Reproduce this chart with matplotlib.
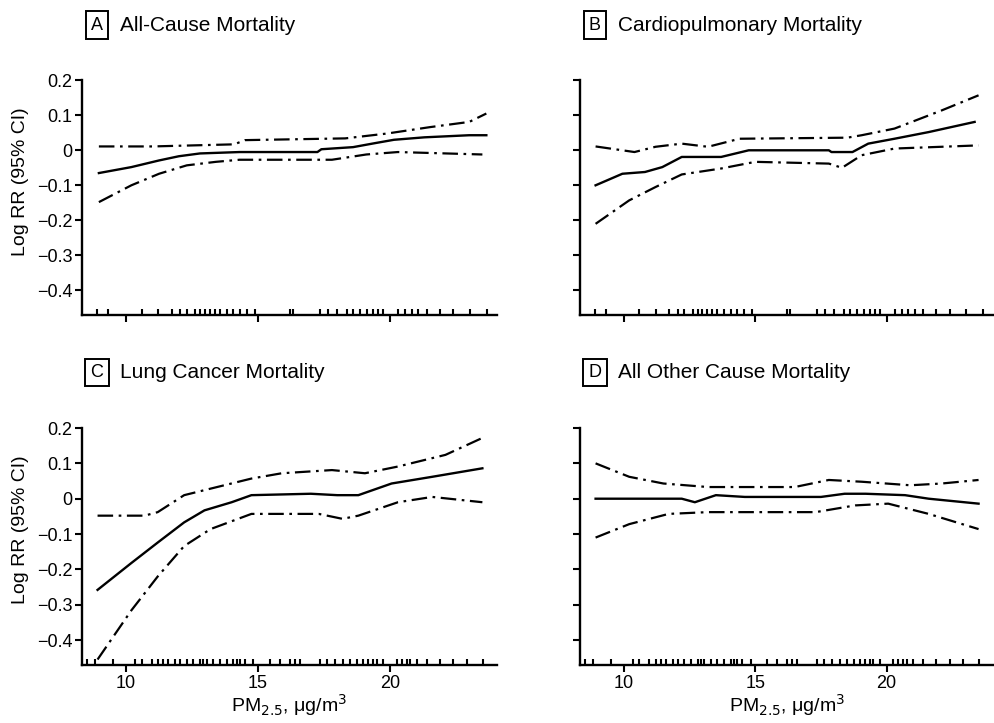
import numpy as np
import matplotlib
matplotlib.use('Agg')
import matplotlib.pyplot as plt
import matplotlib.transforms as mtransforms

plt.rcParams['font.family'] = ['Liberation Sans', 'DejaVu Sans']

# panel letters and titles
letters = ['A', 'B', 'C', 'D']
titles = ['All-Cause Mortality', 'Cardiopulmonary Mortality',
          'Lung Cancer Mortality', 'All Other Cause Mortality']

# A: all-cause
a_x = [8.97, 10.2, 11.25, 12.0, 12.8, 14.3, 17.25, 17.4, 18.6, 19.4, 20.15, 21.3, 23.0, 23.65]
a_fit = [-0.065, -0.048, -0.029, -0.017, -0.009, -0.005, -0.005, 0.003, 0.009, 0.02, 0.03, 0.037, 0.043, 0.043]
a_ux = [8.97, 11.0, 14.1, 14.5, 18.3, 19.9, 21.5, 23.0, 23.65]
a_up = [0.011, 0.011, 0.017, 0.029, 0.034, 0.048, 0.066, 0.081, 0.105]
a_lx = [8.97, 10.2, 11.25, 12.3, 13.4, 14.3, 17.8, 19.1, 20.3, 23.5]
a_lo = [-0.148, -0.10, -0.067, -0.043, -0.033, -0.027, -0.027, -0.012, -0.005, -0.012]

# B: cardiopulmonary
b_x = [8.92, 9.94, 10.8, 11.46, 12.2, 13.7, 14.75, 17.8, 17.9, 18.7, 19.3, 20.3, 21.6, 23.35]
b_fit = [-0.10, -0.067, -0.062, -0.048, -0.019, -0.019, 0.0, 0.0, -0.005, -0.005, 0.019, 0.033, 0.052, 0.081]
b_ux = [8.92, 10.4, 11.2, 12.2, 13.2, 14.4, 18.5, 19.05, 20.3, 22.1, 23.5]
b_up = [0.011, -0.005, 0.01, 0.019, 0.01, 0.033, 0.036, 0.043, 0.062, 0.114, 0.157]
b_lx = [8.92, 10.2, 11.2, 12.2, 13.7, 15.0, 17.8, 18.3, 19.05, 20.3, 23.5]
b_lo = [-0.21, -0.143, -0.105, -0.069, -0.052, -0.033, -0.038, -0.05, -0.014, 0.005, 0.014]

# C: lung cancer
c_x = [8.92, 10.2, 11.2, 12.2, 12.97, 14.0, 14.75, 17.0, 18.0, 18.8, 20.06, 21.6, 23.5]
c_fit = [-0.258, -0.182, -0.124, -0.067, -0.033, -0.01, 0.01, 0.014, 0.01, 0.01, 0.043, 0.062, 0.086]
c_ux = [8.92, 10.7, 11.2, 12.2, 14.75, 15.9, 17.8, 19.05, 20.3, 22.1, 23.5]
c_up = [-0.048, -0.048, -0.038, 0.01, 0.057, 0.072, 0.081, 0.072, 0.091, 0.124, 0.172]
c_lx = [8.92, 10.2, 11.2, 12.2, 13.2, 14.75, 16.0, 17.3, 18.2, 18.8, 20.3, 21.6, 23.5]
c_lo = [-0.455, -0.316, -0.22, -0.134, -0.086, -0.043, -0.043, -0.043, -0.057, -0.048, -0.01, 0.005, -0.01]

# D: all other cause
d_x = [8.92, 12.2, 12.7, 13.5, 14.6, 17.5, 18.4, 19.2, 20.7, 21.6, 23.5]
d_fit = [0.0, 0.0, -0.01, 0.01, 0.005, 0.005, 0.014, 0.014, 0.01, 0.0, -0.014]
d_ux = [8.92, 10.2, 11.5, 13.2, 16.5, 17.8, 19.05, 20.9, 22.1, 23.5]
d_up = [0.10, 0.062, 0.043, 0.033, 0.033, 0.053, 0.048, 0.038, 0.043, 0.053]
d_lx = [8.92, 10.2, 11.7, 13.2, 15.3, 17.3, 18.8, 20.06, 21.6, 23.5]
d_lo = [-0.11, -0.072, -0.043, -0.038, -0.038, -0.038, -0.019, -0.014, -0.043, -0.086]

# rug of city PM2.5 values
rug_top = [8.89, 9.33, 10.59, 11.22, 11.73, 12.05, 12.3, 12.61, 12.8, 12.99, 13.18, 13.37,
           13.56, 13.81, 14.06, 14.32, 14.57, 14.89, 16.21, 16.34, 17.35, 17.66, 17.98, 18.36,
           18.61, 18.86, 19.12, 19.37, 19.56, 19.75, 20.31, 20.57, 20.82, 21.07, 21.39, 21.89,
           22.4, 23.03, 23.66]
rug_bottom = [8.51, 8.83, 9.52, 10.34, 10.59, 10.97, 11.22, 11.41, 11.6, 11.86, 12.05, 12.3,
              12.55, 12.8, 12.93, 13.06, 13.31, 13.56, 13.81, 14.06, 14.19, 14.32, 14.5, 14.82,
              15.45, 15.83, 16.21, 16.4, 16.59, 17.35, 17.6, 17.92, 18.23, 18.48, 18.74, 18.99,
              19.18, 19.37, 19.5, 19.75, 20.25, 20.44, 20.63, 20.76, 21.01, 21.39, 21.89, 22.4,
              22.9, 23.53]

yticks = [0.2, 0.1, 0, -0.1, -0.2, -0.3, -0.4]
ytick_labels = ['0.2', '0.1', '0', '\u22120.1', '\u22120.2', '\u22120.3', '\u22120.4']
xticks = [10, 15, 20]

panels = [
    (a_x, a_fit, a_ux, a_up, a_lx, a_lo, rug_top),
    (b_x, b_fit, b_ux, b_up, b_lx, b_lo, rug_top),
    (c_x, c_fit, c_ux, c_up, c_lx, c_lo, rug_bottom),
    (d_x, d_fit, d_ux, d_up, d_lx, d_lo, rug_bottom),
]

fig = plt.figure(figsize=(9.95, 7.23), dpi=100)
rects = [[0.0824, 0.564, 0.417, 0.325], [0.583, 0.564, 0.415, 0.325],
         [0.0824, 0.080, 0.417, 0.328], [0.583, 0.080, 0.415, 0.328]]

for i, (rect, pdata) in enumerate(zip(rects, panels)):
    xf, yf, xu, yu, xl, yl, rug = pdata
    ax = fig.add_axes(rect)
    ax.plot(xf, yf, color='black', lw=1.7)
    dd = (0, (7, 2.5, 1.2, 2.5))
    ax.plot(xu, yu, color='black', lw=1.6, linestyle=dd)
    ax.plot(xl, yl, color='black', lw=1.6, linestyle=dd)
    trans = mtransforms.blended_transform_factory(ax.transData, ax.transAxes)
    ax.vlines(rug, 0, 0.028, transform=trans, color='black', lw=1.5)

    ax.set_xlim(8.33, 24.05)
    ax.set_ylim(-0.471, 0.2)
    ax.spines['top'].set_visible(False)
    ax.spines['right'].set_visible(False)
    ax.spines['left'].set_linewidth(1.7)
    ax.spines['bottom'].set_linewidth(1.7)
    ax.set_yticks(yticks)
    ax.set_xticks(xticks)
    ax.tick_params(direction='out', length=5, width=1.5, labelsize=13, colors='black', pad=2)
    if i % 2 == 0:
        ax.set_yticklabels(ytick_labels)
        ax.set_ylabel('Log RR (95% CI)', fontsize=14)
        ax.yaxis.set_label_coords(-0.128, 0.57)
    else:
        ax.set_yticklabels([])
    if i >= 2:
        ax.set_xticklabels([str(t) for t in xticks])
        ax.set_xlabel('PM$_{2.5}$, \u03bcg/m$^3$', fontsize=14, labelpad=0)
    else:
        ax.set_xticklabels([])

    ax.text(0.036, 1.234, letters[i], transform=ax.transAxes, fontsize=13,
            ha='center', va='center',
            bbox=dict(boxstyle='square,pad=0.3', fc='white', ec='black', lw=1.4))
    ax.text(0.092, 1.234, titles[i], transform=ax.transAxes, fontsize=15,
            ha='left', va='center')

fig.savefig('out.png', dpi=100)
